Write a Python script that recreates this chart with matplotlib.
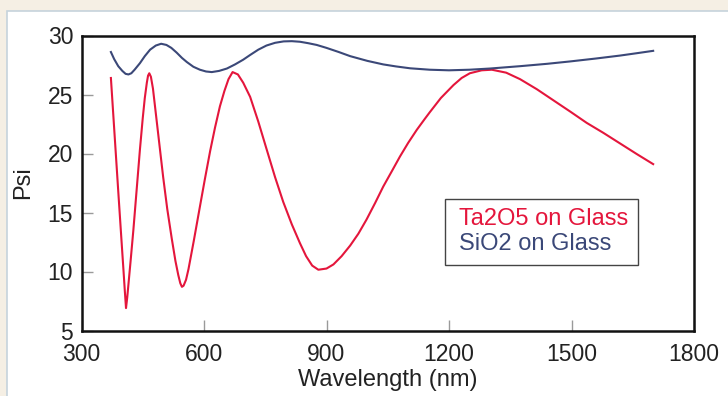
import matplotlib
matplotlib.use("Agg")
import matplotlib.pyplot as plt
from matplotlib.patches import Rectangle

# ---- data ----
ta2o5_wl = [372, 381, 390, 398, 403, 406, 409, 412, 416, 420, 427, 435, 443, 450, 455, 460,
            463, 466, 470, 475, 480, 490, 500, 510, 521, 530, 537, 542, 546, 550, 556, 562,
            575, 590, 602, 615, 627, 639, 650, 660, 670, 683, 696, 713, 733, 753, 774, 794,
            815, 835, 850, 865, 880, 900, 917, 937, 958, 978, 998, 1019, 1039, 1060, 1080,
            1100, 1121, 1140, 1153, 1180, 1211, 1231, 1251, 1280, 1305, 1340, 1374, 1415,
            1456, 1497, 1537, 1578, 1619, 1660, 1700]
ta2o5_psi = [26.4, 21.6, 16.8, 12.6, 10.0, 8.4, 6.9, 7.8, 9.3, 10.8, 13.5, 16.9, 20.3, 23.0, 24.7, 26.0,
             26.6, 26.8, 26.5, 25.5, 24.0, 21.0, 18.0, 15.3, 12.8, 10.9, 9.7, 9.0, 8.7, 8.8, 9.3, 10.2,
             12.6, 15.5, 17.8, 20.2, 22.2, 24.0, 25.3, 26.3, 26.9, 26.7, 26.0, 24.8, 22.7, 20.4, 18.0, 15.9,
             14.0, 12.4, 11.3, 10.5, 10.15, 10.25, 10.6, 11.3, 12.2, 13.2, 14.4, 15.8, 17.2, 18.5, 19.75,
             20.9, 22.0, 22.9, 23.5, 24.7, 25.8, 26.4, 26.8, 27.05, 27.1, 26.85, 26.3, 25.45,
             24.5, 23.55, 22.6, 21.75, 20.85, 19.95, 19.1]

sio2_wl = [372, 380, 390, 400, 408, 415, 422, 430, 443, 455, 468, 482, 495, 508, 520, 533,
           546, 558, 574, 590, 605, 619, 637, 656, 676, 696, 713, 733, 753, 774, 795, 815,
           835, 855, 876, 900, 930, 958, 1000, 1039, 1070, 1105, 1153, 1200, 1250, 1300, 1374,
           1440, 1496, 1560, 1619, 1660, 1700]
sio2_psi = [28.6, 28.0, 27.4, 27.0, 26.75, 26.7, 26.8, 27.1, 27.65, 28.25, 28.8, 29.15, 29.3, 29.2, 28.95, 28.55,
            28.1, 27.75, 27.35, 27.1, 26.95, 26.9, 27.0, 27.2, 27.55, 27.95, 28.35, 28.8, 29.15, 29.38, 29.5, 29.52,
            29.47, 29.35, 29.2, 28.95, 28.6, 28.25, 27.85, 27.55, 27.38, 27.22, 27.1, 27.05, 27.1, 27.2, 27.4,
            27.6, 27.8, 28.05, 28.3, 28.5, 28.7]

x_ticks = [300, 600, 900, 1200, 1500, 1800]
y_ticks = [5, 10, 15, 20, 25, 30]
series_labels = ["Ta2O5 on Glass", "SiO2 on Glass"]
x_label = "Wavelength (nm)"
y_label = "Psi"

RED = "#e4163c"
BLUE = "#3b4878"

plt.rcParams["font.family"] = ["Liberation Sans", "DejaVu Sans"]

W, H = 728, 396
fig = plt.figure(figsize=(W / 100, H / 100), dpi=100, facecolor="#f5efe4")
panel = Rectangle((7 / W, -0.05), 1.1, (396 - 11) / H + 0.05,
                  transform=fig.transFigure, facecolor="white",
                  edgecolor="#c6d3dc", linewidth=1.2, zorder=-10)
fig.add_artist(panel)

ax = fig.add_axes([81.5 / W, (H - 330.5) / H, 612.5 / W, 295 / H])
ax.set_zorder(1)
ax.set_facecolor("white")

ax.plot(ta2o5_wl, ta2o5_psi, color=RED, lw=1.5, label=series_labels[0],
        solid_joinstyle="round")
ax.plot(sio2_wl, sio2_psi, color=BLUE, lw=1.5, label=series_labels[1],
        solid_joinstyle="round")

ax.set_xlim(300, 1800)
ax.set_ylim(5, 30)
ax.set_xticks(x_ticks)
ax.set_yticks(y_ticks)
ax.tick_params(axis="both", direction="in", length=8, width=1, color="#9a9a9a",
               labelsize=16.5, labelcolor="#222222")
ax.tick_params(axis="x", pad=9)
ax.tick_params(axis="y", pad=6)
for s in ax.spines.values():
    s.set_linewidth(1.8)
    s.set_color("#111111")

ax.set_xlabel(x_label, fontsize=17, color="#222222", labelpad=2)
ax.set_ylabel(y_label, fontsize=17, color="#222222", labelpad=10)

leg = ax.legend(loc="upper left", bbox_to_anchor=(0.593, 0.446), borderaxespad=0,
                handlelength=0, handletextpad=0.2, fontsize=17, labelcolor="linecolor",
                fancybox=False, edgecolor="#444444", framealpha=1, labelspacing=0.12,
                borderpad=0.4)
leg.get_frame().set_linewidth(1.0)
for h in leg.legend_handles:
    h.set_visible(False)

fig.savefig("out.png", dpi=100, facecolor=fig.get_facecolor())
